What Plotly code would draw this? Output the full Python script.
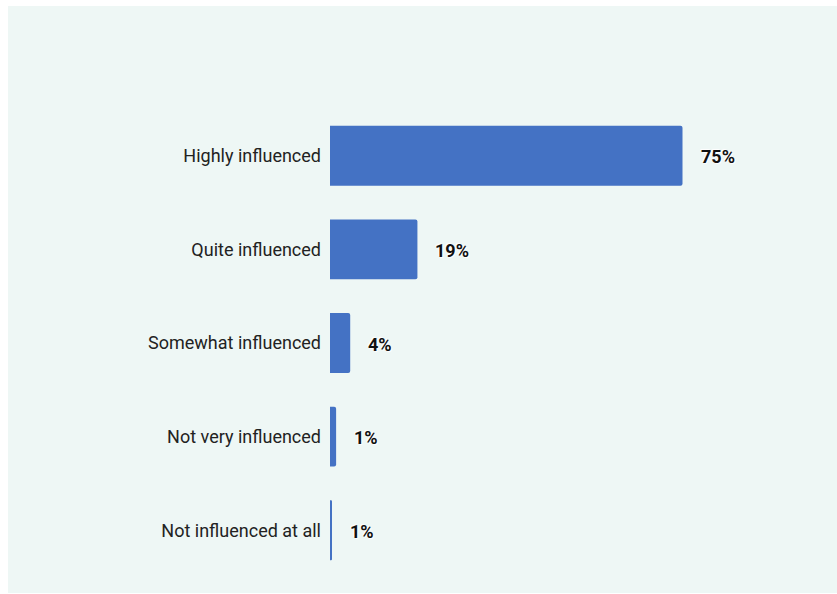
import plotly.graph_objects as go

categories = ["Highly influenced", "Quite influenced", "Somewhat influenced",
              "Not very influenced", "Not influenced at all"]
values = [75, 18.6, 4.3, 1.3, 0.4]
value_labels = ["75%", "19%", "4%", "1%", "1%"]

W, H = 837, 594
L, R, T, B = 330, 37, 109, 17
BG = "#eef7f5"

fig = go.Figure(go.Bar(
    y=categories, x=values, orientation="h",
    marker=dict(color="#4472c4", cornerradius=2, line=dict(width=0)),
    hoverinfo="skip",
))

for c, v, t in zip(categories, values, value_labels):
    fig.add_annotation(x=v, y=c, text=t, showarrow=False, xanchor="left",
                       xshift=16, yshift=-1,
                       font=dict(family="Roboto", size=18, color="#111111",
                                 weight="bold",
                                 shadow="1px 1px 1px #ffffff, -1px -1px 1px #ffffff"))

pw, ph = W - L - R, H - T - B
fig.add_shape(type="rect", xref="paper", yref="paper",
              x0=(8 - L) / pw, x1=(W - L) / pw,
              y0=-(593 - (H - B)) / ph, y1=((H - B) - 6) / ph,
              fillcolor=BG, line=dict(width=0), layer="below")

fig.update_layout(
    width=W, height=H,
    margin=dict(l=L, r=R, t=T, b=B),
    paper_bgcolor="white", plot_bgcolor="rgba(0,0,0,0)",
    bargap=0.36, showlegend=False,
    font=dict(family="Roboto", size=18, color="#222222"),
    xaxis=dict(range=[0, 100], visible=False, fixedrange=True),
    yaxis=dict(categoryorder="array", categoryarray=categories[::-1],
               showgrid=False, zeroline=False, showline=False, ticks="",
               ticklabelstandoff=8,
               tickfont=dict(family="Roboto", size=18, color="#222222")),
)

fig.write_html("out.html")
